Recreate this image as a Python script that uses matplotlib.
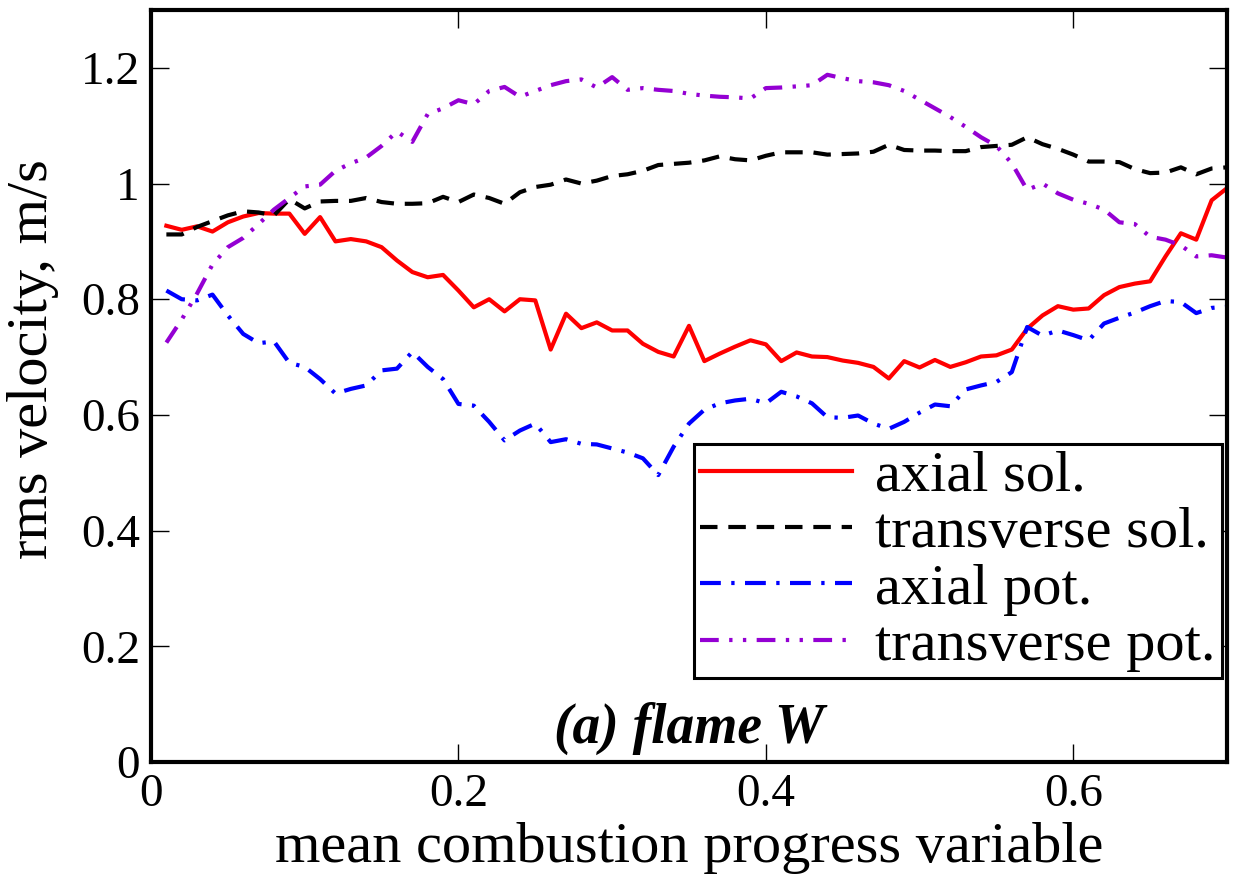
# rms velocity vs mean progress variable, flame W
import numpy as np
import matplotlib
matplotlib.use("Agg")
import matplotlib.pyplot as plt

plt.rcParams["font.family"] = "serif"
plt.rcParams["font.serif"] = ["Liberation Serif", "DejaVu Serif"]

c_mean = np.round(np.arange(1, 71) * 0.01, 2)

axial_sol = [
    0.927, 0.920, 0.926, 0.917, 0.933, 0.943, 0.949, 0.948, 0.948, 0.913,
    0.942, 0.900, 0.904, 0.900, 0.890, 0.867, 0.847, 0.838, 0.842, 0.815,
    0.786, 0.800, 0.779, 0.800, 0.798, 0.713, 0.775, 0.750, 0.760, 0.746,
    0.746, 0.723, 0.709, 0.701, 0.754, 0.693, 0.706, 0.718, 0.729, 0.722,
    0.693, 0.708, 0.701, 0.700, 0.694, 0.690, 0.683, 0.663, 0.693, 0.682,
    0.695, 0.683, 0.691, 0.701, 0.703, 0.713, 0.749, 0.772, 0.788, 0.782,
    0.784, 0.807, 0.821, 0.827, 0.831, 0.874, 0.914, 0.903, 0.971, 0.992,
]
transverse_sol = [
    0.912, 0.912, 0.925, 0.935, 0.945, 0.952, 0.950, 0.945, 0.973, 0.957,
    0.969, 0.970, 0.970, 0.975, 0.968, 0.965, 0.965, 0.966, 0.977, 0.968,
    0.981, 0.975, 0.965, 0.985, 0.994, 0.998, 1.007, 1.000, 1.005, 1.013,
    1.016, 1.022, 1.032, 1.034, 1.036, 1.040, 1.047, 1.042, 1.040, 1.048,
    1.054, 1.054, 1.054, 1.050, 1.051, 1.052, 1.055, 1.067, 1.058, 1.057,
    1.057, 1.056, 1.056, 1.063, 1.065, 1.067, 1.080, 1.068, 1.060, 1.050,
    1.038, 1.038, 1.037, 1.025, 1.018, 1.019, 1.028, 1.016, 1.026, 1.028,
]
axial_pot = [
    0.815, 0.800, 0.798, 0.808, 0.772, 0.740, 0.724, 0.727, 0.690, 0.683,
    0.662, 0.637, 0.645, 0.651, 0.677, 0.680, 0.709, 0.683, 0.662, 0.619,
    0.616, 0.588, 0.556, 0.573, 0.585, 0.553, 0.558, 0.550, 0.549, 0.542,
    0.535, 0.525, 0.496, 0.545, 0.585, 0.609, 0.620, 0.625, 0.628, 0.620,
    0.640, 0.632, 0.620, 0.596, 0.595, 0.599, 0.585, 0.576, 0.588, 0.604,
    0.618, 0.615, 0.644, 0.651, 0.657, 0.674, 0.752, 0.737, 0.746, 0.738,
    0.729, 0.758, 0.768, 0.777, 0.788, 0.797, 0.795, 0.776, 0.785, 0.787,
]
transverse_pot = [
    0.725, 0.765, 0.810, 0.860, 0.890, 0.906, 0.930, 0.955, 0.975, 0.995,
    0.998, 1.022, 1.035, 1.045, 1.065, 1.090, 1.072, 1.120, 1.130, 1.144,
    1.137, 1.160, 1.167, 1.150, 1.160, 1.170, 1.177, 1.180, 1.166, 1.184,
    1.162, 1.165, 1.162, 1.160, 1.155, 1.152, 1.150, 1.149, 1.147, 1.165,
    1.166, 1.168, 1.170, 1.188, 1.182, 1.177, 1.175, 1.170, 1.160, 1.145,
    1.130, 1.115, 1.098, 1.080, 1.065, 1.035, 0.989, 1.000, 0.983, 0.972,
    0.965, 0.955, 0.933, 0.930, 0.908, 0.903, 0.893, 0.874, 0.876, 0.872,
]

labels = ["axial sol.", "transverse sol.", "axial pot.", "transverse pot."]
x_ticks = [0, 0.2, 0.4, 0.6]
x_ticklabels = ["0", "0.2", "0.4", "0.6"]
y_ticks = [0, 0.2, 0.4, 0.6, 0.8, 1.0, 1.2]
y_ticklabels = ["0", "0.2", "0.4", "0.6", "0.8", "1", "1.2"]

fig = plt.figure(figsize=(12.38, 8.77), dpi=100)
ax = fig.add_axes([151 / 1238, 115 / 877, 1076 / 1238, 752 / 877])

lw = 3.0
ax.plot(c_mean, axial_sol, color="#ff0000", lw=lw, label=labels[0])
ax.plot(c_mean, transverse_sol, color="black", lw=lw, dashes=(4.2, 2.6),
        label=labels[1])
ax.plot(c_mean, axial_pot, color="#0000ff", lw=lw,
        dashes=(5.0, 2.5, 0.8, 2.5), label=labels[2])
ax.plot(c_mean, transverse_pot, color="#9400d3", lw=lw,
        dashes=(4.5, 2.5, 0.8, 2.5, 0.8, 2.5), label=labels[3])

ax.set_xlim(0, 0.7)
ax.set_ylim(0, 1.3)
ax.set_xticks(x_ticks)
ax.set_xticklabels(x_ticklabels)
ax.set_yticks(y_ticks)
ax.set_yticklabels(y_ticklabels)
ax.tick_params(direction="in", length=13, width=1.0, labelsize=34, pad=8,
               top=True, right=True)
for s in ax.spines.values():
    s.set_linewidth(3.0)

ax.set_xlabel("mean combustion progress variable", fontsize=42, va="baseline")
ax.xaxis.set_label_coords(0.5, -0.133)
ax.set_ylabel("rms velocity, m/s", fontsize=42, va="center")
ax.yaxis.set_label_coords(-0.110, 0.536)

ax.text(0.5, 0.025, "(a) flame W", transform=ax.transAxes, ha="center",
        va="baseline", fontsize=40, fontweight="bold", style="italic")

leg = ax.legend(loc="lower right", bbox_to_anchor=(0.995, 0.112), fontsize=42,
                frameon=True, fancybox=False, framealpha=1, handlelength=2.6,
                handletextpad=0.4, labelspacing=0.06, borderpad=0.1,
                borderaxespad=0)
leg.get_frame().set_edgecolor("black")
leg.get_frame().set_linewidth(2.2)

fig.savefig("out.png", dpi=100)
